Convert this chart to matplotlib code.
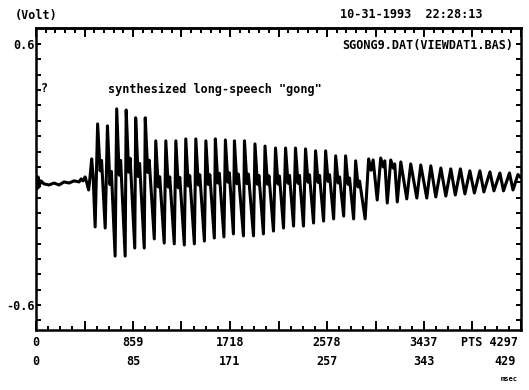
import matplotlib
matplotlib.use("Agg")
import matplotlib.pyplot as plt
import numpy as np

# ---------------- data (sample index "PTS", volts) ----------------
onset_pts = [0, 9, 18, 27, 44, 71, 115, 160, 204, 249, 293, 337, 382, 400, 417,
             435, 453, 466, 479, 493, 506]
onset_volt = [-0.011, -0.066, -0.011, -0.057, -0.029, -0.043, -0.048, -0.039,
              -0.048, -0.034, -0.039, -0.029, -0.034, -0.020, -0.029, -0.011,
              -0.043, -0.071, -0.011, 0.072, -0.006]

# sawtooth part: per cycle trough, peak, shoulder, shoulder
decay_pts = [524, 546, 568, 581, 613, 633, 655, 668, 701, 715, 737, 750,
             790, 799, 821, 834, 875, 883, 905, 918, 959, 968, 990, 1003,
             1048, 1061, 1083, 1096, 1136, 1150, 1172, 1185, 1225, 1239, 1261, 1274,
             1314, 1327, 1349, 1362, 1403, 1416, 1438, 1451, 1492, 1505, 1527, 1540,
             1580, 1589, 1611, 1624, 1665, 1678, 1700, 1713, 1749, 1758, 1780, 1793,
             1838, 1847, 1869, 1882, 1927, 1940, 1962, 1975, 2015, 2029, 2051, 2064,
             2104, 2122, 2144, 2157, 2193, 2211, 2233, 2246, 2282, 2299, 2321, 2334,
             2370, 2388, 2410, 2423, 2459, 2477, 2499, 2512, 2548, 2566, 2588, 2601,
             2637, 2655, 2677, 2690, 2726, 2743, 2765, 2778, 2814, 2832, 2854, 2867,
             2916, 2947, 2969, 2987]
decay_volt = [-0.241, 0.233, 0.017, 0.065, -0.246, 0.224, -0.046, 0.014,
              -0.375, 0.302, -0.003, 0.065, -0.375, 0.297, 0.011, 0.075,
              -0.338, 0.261, -0.009, 0.051, -0.338, 0.261, 0.010, 0.066,
              -0.296, 0.155, -0.057, -0.010, -0.315, 0.155, -0.058, -0.011,
              -0.319, 0.155, -0.061, -0.013, -0.324, 0.164, -0.053, -0.005,
              -0.319, 0.164, -0.048, -0.001, -0.306, 0.155, -0.046, -0.001,
              -0.292, 0.164, -0.039, 0.006, -0.287, 0.159, -0.035, 0.008,
              -0.273, 0.155, -0.042, 0.002, -0.282, 0.155, -0.042, 0.002,
              -0.282, 0.141, -0.045, -0.004, -0.273, 0.131, -0.045, -0.006,
              -0.260, 0.122, -0.044, -0.007, -0.246, 0.122, -0.040, -0.004,
              -0.237, 0.122, -0.040, -0.004, -0.237, 0.118, -0.035, -0.001,
              -0.223, 0.109, -0.036, -0.004, -0.214, 0.109, -0.032, -0.001,
              -0.204, 0.086, -0.039, -0.011, -0.191, 0.086, -0.045, -0.016,
              -0.204, 0.063, -0.057, -0.030, -0.204, 0.072, 0.020, 0.067]

# ringing tail
tail_pts = [3023, 3054, 3076, 3090, 3112, 3143, 3165, 3178, 3201, 3232, 3285,
            3320, 3374, 3409, 3462, 3498, 3542, 3587, 3631, 3675, 3715, 3760,
            3800, 3844, 3884, 3933, 3968, 4022, 4057, 4110, 4142, 4195, 4226,
            4270, 4297]
tail_volt = [-0.117, 0.076, 0.035, 0.063, -0.131, 0.067, 0.030, 0.049, -0.126,
             0.058, -0.112, 0.049, -0.108, 0.044, -0.108, 0.040, -0.103, 0.030,
             -0.099, 0.026, -0.094, 0.026, -0.089, 0.017, -0.085, 0.017, -0.080,
             0.012, -0.075, 0.007, -0.075, 0.007, -0.071, 0.000, -0.015]

pts_labels = ["0", "859", "1718", "2578", "3437", "4297"]
pts_label_pos = [0, 859, 1718, 2578, 3437, 4297]
msec_labels = ["0", "85", "171", "257", "343", "429"]
volt_labels = ["0.6", "-0.6"]
volt_label_pos = [0.6, -0.6]

# ---------------- figure ----------------
W, H = 529, 390
fig = plt.figure(figsize=(W / 100, H / 100), dpi=100)
fig.patch.set_facecolor("white")
ax = fig.add_axes([36 / W, 1 - 330 / H, 485 / W, 302 / H])

x = onset_pts + decay_pts + tail_pts
y = onset_volt + decay_volt + tail_volt
ax.plot(x, y, color="black", lw=2.2, solid_joinstyle="round", solid_capstyle="round")

ax.set_xlim(0, 4297)
ax.set_ylim(-0.715, 0.674)

for s in ax.spines.values():
    s.set_linewidth(1.8)
    s.set_color("black")

font = dict(family="DejaVu Sans Mono", weight="bold", color="black")

# x ticks: bottom (major every 429.7, minor every 107.4)
xmaj = np.arange(0, 4297.1, 4297 / 10)
ax.set_xticks(xmaj)
ax.set_xticks(np.arange(0, 4297.1, 4297 / 40), minor=True)
ax.tick_params(axis="x", which="both", direction="in", bottom=True, top=False,
               labelbottom=False, width=1.4)
ax.tick_params(axis="x", which="major", length=6.5)
ax.tick_params(axis="x", which="minor", length=3.2)

# top ticks (5 subdivisions)
top = ax.secondary_xaxis("top")
top.set_xticks(xmaj)
top.set_xticks(np.arange(0, 4297.1, 4297 / 50), minor=True)
top.tick_params(which="both", direction="in", labeltop=False, width=1.4)
top.tick_params(which="major", length=6.5)
top.tick_params(which="minor", length=3.5)
top.spines["top"].set_linewidth(1.8)

# y ticks
step = 1.2 / 17
yt = np.arange(-0.6 - step, 0.66, step)
ax.set_yticks(volt_label_pos)
ax.set_yticklabels(volt_labels, fontdict=dict(family="DejaVu Sans Mono",
                                              weight="bold", size=8.5))
ax.set_yticks(yt, minor=True)
ax.tick_params(axis="y", which="both", direction="in", left=True, right=True,
               length=3.5, width=1.4, pad=1)

# bottom labels (two rows)
xt = ax.get_xaxis_transform()
for i, (p, lab, ms) in enumerate(zip(pts_label_pos, pts_labels, msec_labels)):
    if i == len(pts_labels) - 1:
        ax.annotate("PTS " + lab, xy=(p, 0), xycoords=xt, xytext=(-2, -9),
                    textcoords="offset points", ha="right", va="center",
                    size=8.5, **font)
        ax.annotate(ms, xy=(p, 0), xycoords=xt, xytext=(-4, -23),
                    textcoords="offset points", ha="right", va="center",
                    size=8.5, **font)
    else:
        ax.annotate(lab, xy=(p, 0), xycoords=xt, xytext=(0, -9),
                    textcoords="offset points", ha="center", va="center",
                    size=8.5, **font)
        ax.annotate(ms, xy=(p, 0), xycoords=xt, xytext=(0, -23),
                    textcoords="offset points", ha="center", va="center",
                    size=8.5, **font)

fig.text(518 / W, 1 - 379 / H, "msec", ha="right", va="center", size=5, **font)

# header texts
fig.text(15 / W, 1 - 15 / H, "(Volt)", ha="left", va="center", size=8.5, **font)
fig.text(340 / W, 1 - 15 / H, "10-31-1993  22:28:13", ha="left", va="center",
         size=8.5, **font)

# in-plot texts
ax.text((513 - 36) / 485, (330 - 45) / 302, "SGONG9.DAT(VIEWDAT1.BAS)",
        transform=ax.transAxes, ha="right", va="center", size=8.5, **font)
ax.text((41 - 36) / 485, (330 - 89) / 302, "?", transform=ax.transAxes,
        ha="left", va="center", size=8.5, **font)
ax.text((108 - 36) / 485, (330 - 89) / 302, 'synthesized long-speech "gong"',
        transform=ax.transAxes, ha="left", va="center", size=8.5, **font)

fig.savefig("out.png", dpi=100, facecolor="white")
